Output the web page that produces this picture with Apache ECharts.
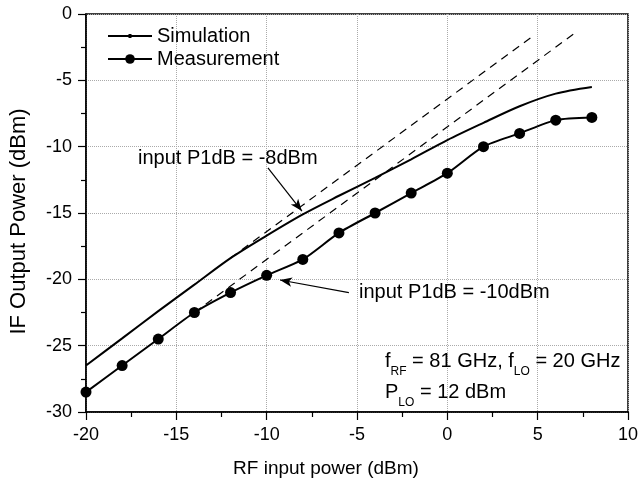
<!DOCTYPE html>
<html>
<head>
<meta charset="utf-8">
<script src="https://cdn.jsdelivr.net/npm/echarts@6/dist/echarts.min.js"></script>
<style>
  html, body { margin: 0; padding: 0; background: #fff; }
  #chart { width: 642px; height: 487px; }
</style>
</head>
<body>
<div id="chart"></div>
<script>
// RF input power (dBm)
var rfIn = [-20, -18, -16, -14, -12, -10, -8, -6, -4, -2, 0, 2, 4, 6, 8];
// IF output power (dBm)
var simulation = [-26.5, -24.45, -22.4, -20.4, -18.4, -16.7, -15.1, -13.7, -12.35, -10.95, -9.5, -8.2, -6.95, -6.0, -5.5];
var measurement = [-28.5, -26.5, -24.5, -22.5, -21.0, -19.7, -18.5, -16.5, -15.0, -13.5, -12.0, -10.0, -9.0, -8.0, -7.8];
// extrapolated linear gain lines
var linSim = [[-12, -18.4], [4.8, -1.6]];
var linMeas = [[-14, -22.5], [7, -1.5]];
// annotation arrows [from, to]
var arrowSim = [[-9.93, -11.6], [-8.05, -14.85]];
var arrowMeas = [[-5.45, -21.0], [-9.26, -20.05]];

var FONT = 'Liberation Sans';

function pairs(xs, ys) {
  return xs.map(function (x, i) { return [x, ys[i]]; });
}

var chart = echarts.init(document.getElementById('chart'));

var option = {
  backgroundColor: '#fff',
  animation: false,
  textStyle: { fontFamily: FONT, color: '#000' },
  grid: {
    left: 86, right: 14, top: 14, bottom: 75,
    show: true, borderColor: '#000', borderWidth: 1.5
  },
  legend: {
    orient: 'vertical',
    left: 102, top: 21,
    itemWidth: 44, itemHeight: 12, itemGap: 3,
    data: [
      { name: 'Simulation', icon: 'path://M0,1 L44,1 L44,3 L0,3 Z M20.5,0 L23.5,0 L23.5,4 L20.5,4 Z' },
      { name: 'Measurement' }
    ],
    textStyle: { fontSize: 20, color: '#000', fontFamily: FONT }
  },
  xAxis: {
    type: 'value',
    min: -20, max: 10, interval: 5,
    name: 'RF input power (dBm)',
    nameLocation: 'middle', nameGap: 47,
    nameTextStyle: { fontSize: 19, color: '#000', fontFamily: FONT, padding: [0, 62, 0, 0] },
    axisLine: { onZero: false, lineStyle: { color: '#000', width: 1.5 } },
    axisTick: { inside: false, length: 8, lineStyle: { color: '#000', width: 1.2 } },
    minorTick: { show: true, splitNumber: 2, length: 5, lineStyle: { color: '#000', width: 1.2 } },
    axisLabel: { fontSize: 18, color: '#000', margin: 14, fontFamily: FONT },
    splitLine: { show: true, lineStyle: { color: '#aaa', type: 'dotted', width: 1 } }
  },
  yAxis: {
    type: 'value',
    min: -30, max: 0, interval: 5,
    name: 'IF Output Power (dBm)',
    nameLocation: 'middle', nameGap: 56,
    nameTextStyle: { fontSize: 22, color: '#000', fontFamily: FONT, padding: [0, 17, 0, 0] },
    axisLine: { show: true, onZero: false, lineStyle: { color: '#000', width: 1.5 } },
    axisTick: { show: true, inside: false, length: 8, lineStyle: { color: '#000', width: 1.2 } },
    minorTick: { show: true, splitNumber: 2, length: 5, lineStyle: { color: '#000', width: 1.2 } },
    axisLabel: { fontSize: 18, color: '#000', margin: 14, fontFamily: FONT },
    splitLine: { show: true, lineStyle: { color: '#aaa', type: 'dotted', width: 1 } }
  },
  series: [
    {
      name: 'Simulation',
      type: 'line',
      data: pairs(rfIn, simulation),
      smooth: 0.3,
      showSymbol: false,
      symbol: 'circle',
      symbolSize: 3,
      itemStyle: { color: '#000' },
      lineStyle: { color: '#000', width: 2 },
      z: 5,
      markLine: {
        silent: true,
        symbol: ['none', 'arrow'],
        symbolSize: [7, 12],
        label: { show: false },
        lineStyle: { color: '#000', width: 1.2, type: 'solid' },
        data: [
          [{ coord: arrowSim[0] }, { coord: arrowSim[1] }],
          [{ coord: arrowMeas[0] }, { coord: arrowMeas[1] }]
        ]
      }
    },
    {
      name: 'Measurement',
      type: 'line',
      data: pairs(rfIn, measurement),
      smooth: 0.25,
      symbol: 'circle',
      symbolSize: 11,
      itemStyle: { color: '#000' },
      lineStyle: { color: '#000', width: 2 },
      z: 5
    },
    {
      name: 'linSim',
      type: 'line',
      data: linSim,
      showSymbol: false,
      lineStyle: { color: '#000', width: 1.2, type: [8, 6] },
      z: 3
    },
    {
      name: 'linMeas',
      type: 'line',
      data: linMeas,
      showSymbol: false,
      lineStyle: { color: '#000', width: 1.2, type: [8, 6] },
      z: 3
    }
  ],
  graphic: [
    {
      type: 'text', left: 138, top: 148, z: 10,
      style: { text: 'input P1dB = -8dBm', fontSize: 20, fontFamily: FONT, fill: '#000' }
    },
    {
      type: 'text', left: 359, top: 282, z: 10,
      style: { text: 'input P1dB = -10dBm', fontSize: 20, fontFamily: FONT, fill: '#000' }
    },
    {
      type: 'text', left: 385, top: 344, z: 10,
      style: {
        text: 'f{sub|RF} = 81 GHz, f{sub|LO} = 20 GHz\nP{sub|LO} = 12 dBm',
        fontSize: 20, fontFamily: FONT, fill: '#000', lineHeight: 31,
        rich: {
          sub: { fontSize: 12, fontFamily: FONT, fill: '#000', padding: [22, 0, 0, 0], lineHeight: 31 }
        }
      }
    }
  ]
};

chart.setOption(option);
</script>
</body>
</html>
